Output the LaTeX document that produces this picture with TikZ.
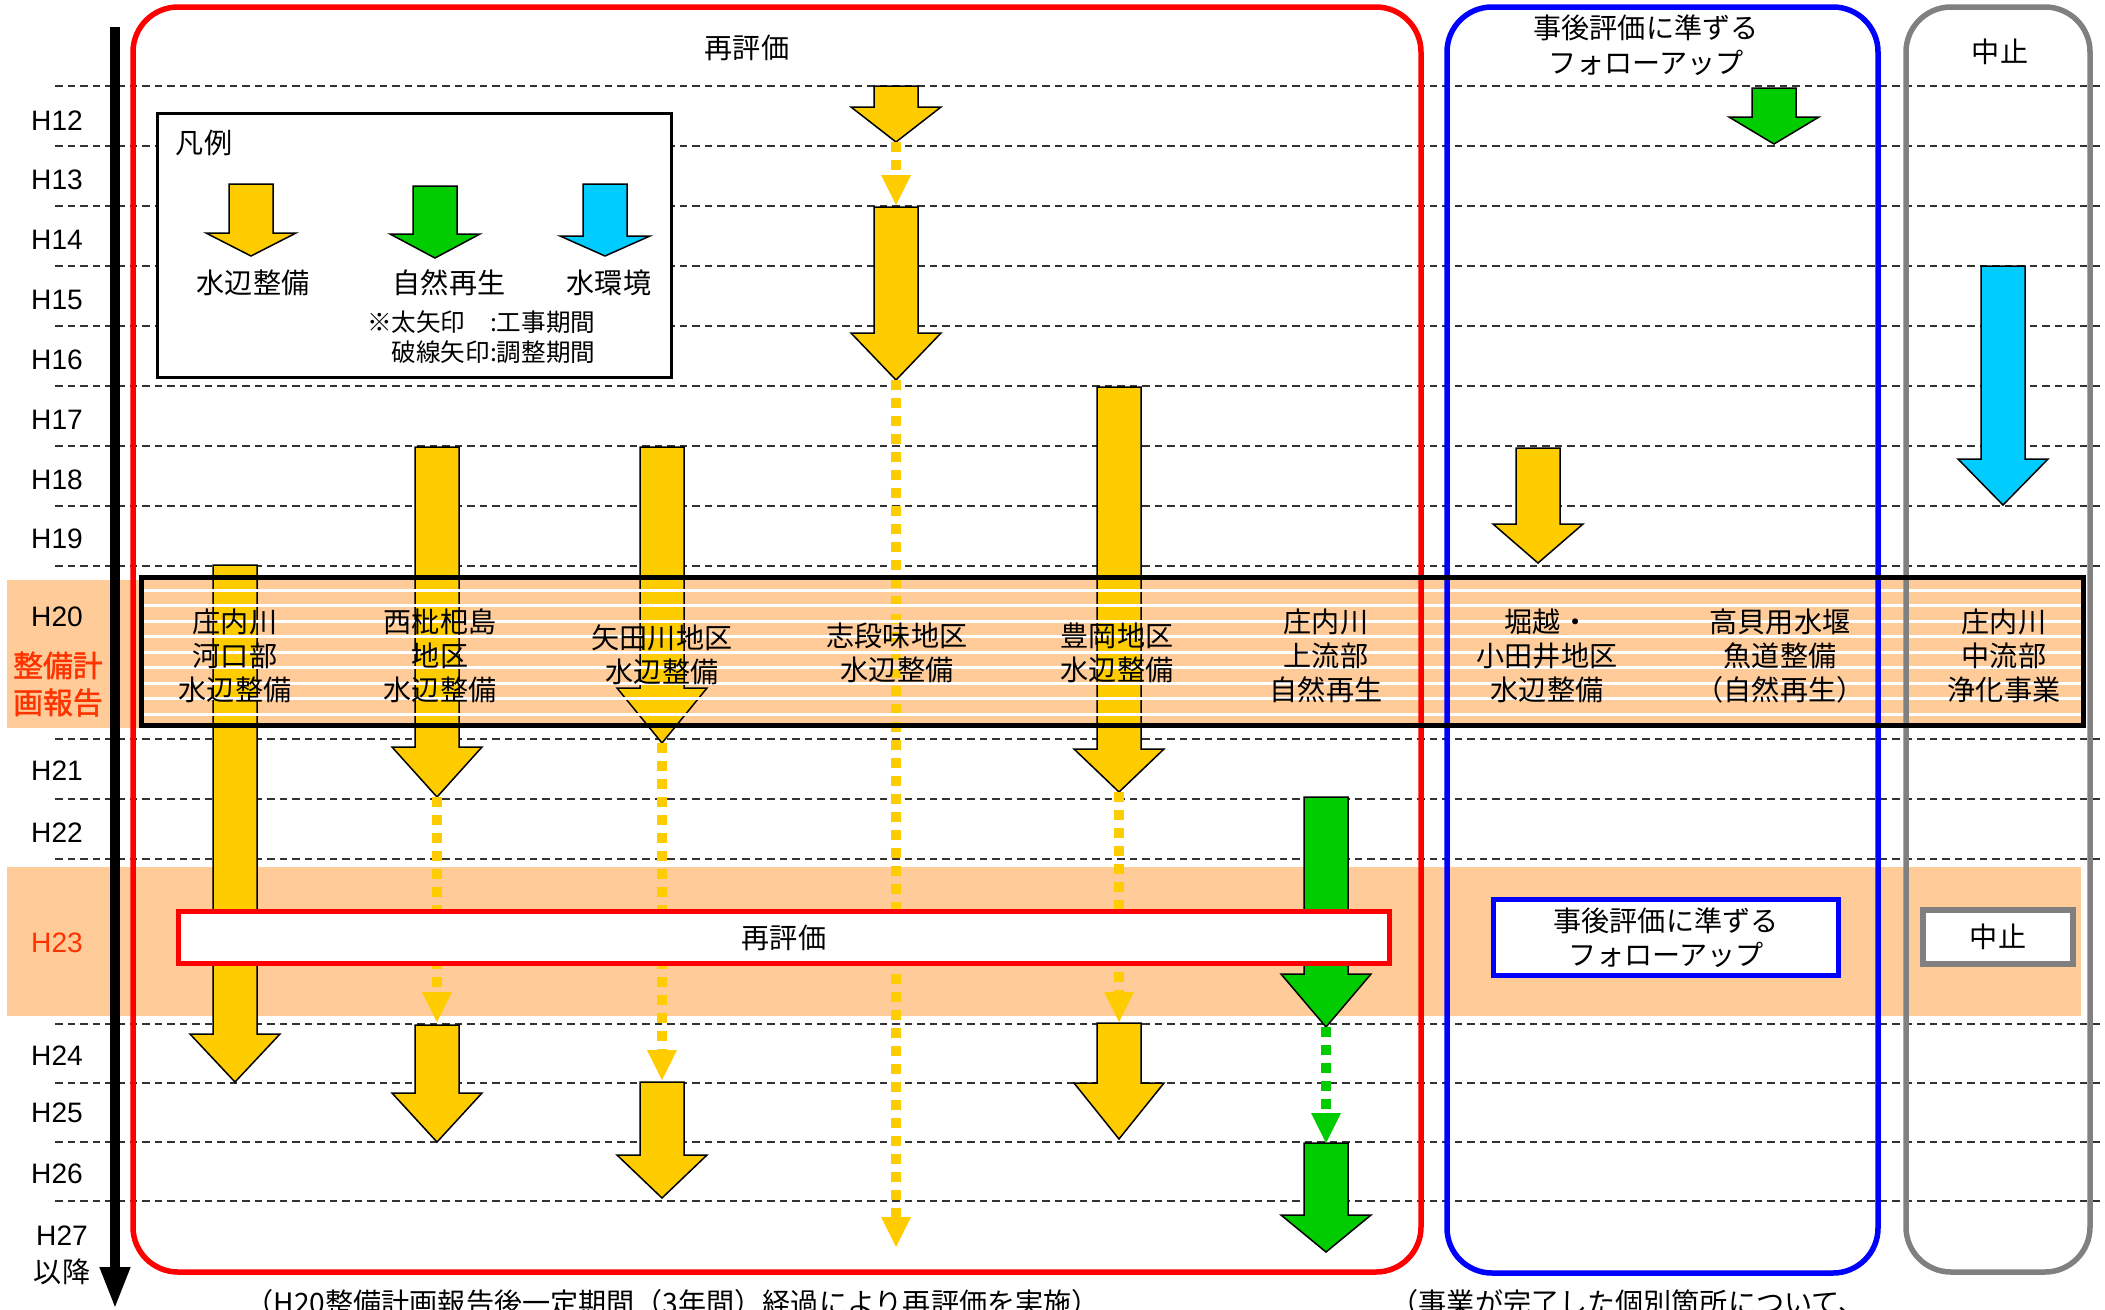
\documentclass[tikz,border=0pt]{standalone}
\usepackage{fontspec}
\setmainfont{Liberation Sans}
\newfontfamily\jp{Noto Sans CJK JP}
\newfontfamily\jpb[FakeBold=1.5]{Noto Sans CJK JP}
\usepackage{tikz}
\usetikzlibrary{arrows.meta}
\definecolor{mizuYellow}{HTML}{FFCC00}
\definecolor{shizenGreen}{HTML}{00CC00}
\definecolor{kankyoCyan}{HTML}{00CCFF}
\definecolor{bandOrange}{HTML}{FFCC99}
\definecolor{labelRed}{HTML}{FF3300}
\definecolor{stopGray}{HTML}{808080}
\definecolor{frameBlue}{HTML}{0000FF}
\definecolor{frameRed}{HTML}{FF0000}

\begin{document}
\begin{tikzpicture}[x=0.1mm,y=-0.1mm,
grid/.style={line width=0.2mm,black!80,dash pattern=on 0.75mm off 0.5mm},
frame/.style={line width=0.55mm,rounded corners=4.5mm},
fat/.style={draw=black,line width=0.15mm},
wait/.style={line width=1mm,dash pattern=on 1mm off 0.8mm,-{Triangle[width=3mm,length=3mm,line width=0pt]}},
jt/.style={font=\jp\fontsize{8pt}{9.7pt}\selectfont,align=center,inner sep=0pt},
yr/.style={font=\fontsize{8pt}{9.7pt}\selectfont,inner sep=0pt},
box/.style={fill=white,line width=0.5mm,inner sep=0pt}]
\useasboundingbox (0,0) rectangle (2105,1309);
\clip (0,0) rectangle (2105,1309);
\fill[bandOrange] (7,580) rectangle (2083,728);
\fill[bandOrange] (7,867) rectangle (2081,1016);
\foreach \y in {86,146,...,566,739,799,859,1024,1083,1142,1201}
\draw[grid] (55,\y) -- (2105,\y);

\draw[fill=white,line width=0.3mm] (157,113) rectangle (671,377);
\node[jt] (lg) at (204,143) {凡例};
\foreach \c/\x/\t/\s/\e in {mizuYellow/251/184/233/256,shizenGreen/435/186/234/258,kankyoCyan/605/184/236/256}
\draw[fat,fill=\c] (\x-22,\t) -- (\x+22,\t) -- (\x+22,\s) -- (\x+45,\s) -- (\x,\e) -- (\x-45,\s) -- (\x-22,\s) -- cycle;
\node[jt] (lg1) at (253,283) {水辺整備};
\node[jt] (lg2) at (449,283) {自然再生};
\node[jt] (lg3) at (609,283) {水環境};
\node[jt,font=\jp\fontsize{7pt}{8.5pt}\selectfont,anchor=east] (lg4) at (596,322) {※太矢印　:工事期間};
\node[jt,font=\jp\fontsize{7pt}{8.5pt}\selectfont,anchor=east] (lg5) at (596,352) {破線矢印:調整期間};

\foreach \c/\x/\t/\s/\e in {mizuYellow/235/565/1034/1082,mizuYellow/437/447/747/797,mizuYellow/437/1025/1093/1142,
mizuYellow/662/447/688/743,mizuYellow/662/1082/1155/1198,mizuYellow/896/86/107/142,mizuYellow/896/207/333/380,
mizuYellow/1119/387/749/792,mizuYellow/1119/1023/1083/1139,mizuYellow/1538/448/524/563,
shizenGreen/1326/797/974/1027,shizenGreen/1326/1143/1215/1252,shizenGreen/1774/88/117/144,kankyoCyan/2003/266/459/505}
\draw[fat,fill=\c] (\x-22,\t) -- (\x+22,\t) -- (\x+22,\s) -- (\x+45,\s) -- (\x,\e) -- (\x-45,\s) -- (\x-22,\s) -- cycle;
\foreach \c/\x/\t/\e in {mizuYellow/896/142/205,mizuYellow/896/380/1247,mizuYellow/437/797/1022,
mizuYellow/662/743/1080,mizuYellow/1119/792/1022,shizenGreen/1326/1027/1143}
\draw[wait,color=\c] (\x,\t) -- (\x,\e);

\foreach \y in {590,605.5,...,715}
\draw[white,line width=0.3mm] (141,\y) -- (2083,\y);
\draw[frame,frameRed] (133,7) rectangle (1421,1272);
\draw[frame,frameBlue] (1447,7) rectangle (1878,1273);
\draw[frame,stopGray] (1906,7) rectangle (2090,1272);
\draw[line width=0.5mm] (141,577) rectangle (2083,725);

\node[box,draw=frameRed,minimum width=121.1mm,minimum height=5.2mm,font=\jp\fontsize{8pt}{9.7pt}\selectfont] (re) at (784,937.5) {再評価};
\node[box,draw=frameBlue,minimum width=34.5mm,minimum height=7.6mm,align=center,font=\jp\fontsize{8pt}{9.7pt}\selectfont] (fu) at (1666,937.5) {事後評価に準ずる\\フォローアップ};
\node[box,draw=stopGray,line width=0.6mm,minimum width=15mm,minimum height=5.4mm,font=\jp\fontsize{8pt}{9.7pt}\selectfont] (st) at (1998,937) {中止};

\node[jt] (p1) at (235,656) {庄内川\\河口部\\水辺整備};
\node[jt] (p2) at (440,656) {西枇杷島\\地区\\水辺整備};
\node[jt] (p3) at (662,655) {矢田川地区\\水辺整備};
\node[jt] (p4) at (897,653) {志段味地区\\水辺整備};
\node[jt] (p5) at (1117,653) {豊岡地区\\水辺整備};
\node[jt] (p6) at (1326,656) {庄内川\\上流部\\自然再生};
\node[jt] (p7) at (1547,656) {堀越・\\小田井地区\\水辺整備};
\node[jt] (p8) at (1780,656) {高貝用水堰\\魚道整備\\（自然再生）};
\node[jt] (p9) at (2004,656) {庄内川\\中流部\\浄化事業};

\foreach \n/\y in {12/121,13/180,14/240,15/300,16/360,17/420,18/480,19/539,20/617,21/771,22/833,23/943,24/1056,25/1113,26/1174}{
\ifnum \n = 23
\node[yr,text=labelRed] (h\n) at (57,\y) {H\n};
\else
\node[yr] (h\n) at (57,\y) {H\n};
\fi
}
\node[yr] (h27) at (62,1236) {H27};
\node[jt] (h27b) at (62,1272) {以降};
\node[jt,text=labelRed,font=\jpb\fontsize{8.5pt}{10.5pt}\selectfont] (h20b) at (58,684) {整備計\\画報告};

\node[jt] (t1) at (747,48) {再評価};
\node[jt,font=\jp\fontsize{8pt}{10pt}\selectfont] (t2) at (1646,45) {事後評価に準ずる\\フォローアップ};
\node[jt] (t3) at (2000,52) {中止};

\node[jt,anchor=west] (n1) at (245,1303) {（H20整備計画報告後一定期間（3年間）経過により再評価を実施）};
\node[jt,anchor=west] (n2) at (1390,1303) {（事業が完了した個別箇所について、};

\coordinate (a0) at (115,27);
\coordinate (a1) at (115,1309);
\draw[line width=1mm,-{Triangle[width=2.8mm,length=4.2mm]}] (a0) -- (a1);
\end{tikzpicture}
\end{document}
